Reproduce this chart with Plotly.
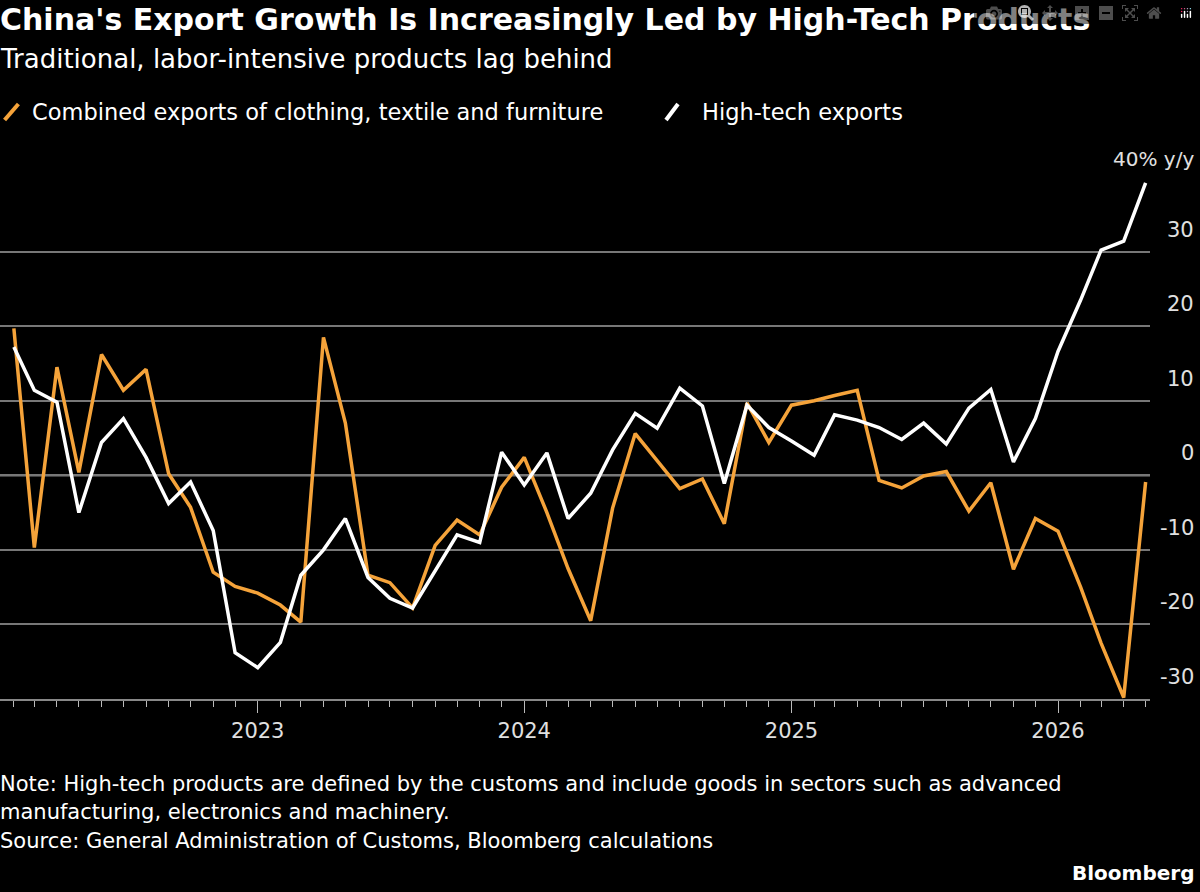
import pandas as pd
import plotly.graph_objects as go

months = pd.date_range("2022-02-01", "2026-05-01", freq="MS")

# y/y % change
hightech = [17.2, 11.4, 9.8, -5, 4.4, 7.6, 2.4, -3.8, -0.9, -7.4, -23.8,
            -25.8, -22.4, -13.4, -10, -5.8, -13.7, -16.5, -17.8, -12.9, -8, -9, 3.1,
            -1.3, 3, -5.8, -2.4, 3.4, 8.3, 6.3, 11.7, 9.3, -1.1, 9.4, 6.4,
            4.6, 2.7, 8.1, 7.4, 6.4, 4.8, 7, 4.2, 9, 11.5, 1.8, 7.6,
            16.6, 23.5, 30.2, 31.4, 39.2]
labor = [19.7, -9.7, 14.5, 0.4, 16.2, 11.4, 14.2, 0.2, -4.3, -13, -14.9,
         -15.8, -17.4, -19.7, 18.5, 7, -13.4, -14.4, -17.8, -9.4, -6, -8, -1.6,
         2.4, -5, -12.5, -19.5, -4.4, 5.6, 2, -1.8, -0.5, -6.5, 9.7, 4.4,
         9.4, 10, 10.7, 11.4, -0.7, -1.7, -0.1, 0.5, -4.8, -1, -12.6, -5.8,
         -7.5, -15, -22.5, -29.8, -0.9]
ytick_vals = [30, 20, 10, 0, -10, -20, -30]

ORANGE = "#F5A33A"
FONT = "DejaVu Sans"
GREY = "#e0e0e0"

fig = go.Figure()
fig.add_trace(go.Scatter(x=months, y=labor, mode="lines", name="Combined exports of clothing, textile and furniture",
                         line=dict(color=ORANGE, width=3.5)))
fig.add_trace(go.Scatter(x=months, y=hightech, mode="lines", name="High-tech exports",
                         line=dict(color="white", width=3.5)))

RIGHT = 1196 / 1150

ann = []
for v in ytick_vals:
    ann.append(dict(x=RIGHT, xref="paper", xanchor="right", y=v, yref="y", yshift=22,
                    text=str(v), showarrow=False, font=dict(size=21, color=GREY)))
ann.append(dict(x=RIGHT, xref="paper", xanchor="right", y=40, yref="y", yshift=18,
                text="40% y/y", showarrow=False, font=dict(size=20, color=GREY)))
n_axis = len(ann)

# paper coords: plot spans x 0..1150 px, y 177..699 px
def py(pix):
    return (699 - pix) / 522

ann += [
    dict(x=-0.002, y=py(20), text="<b>China's Export Growth Is Increasingly Led by High-Tech Products</b>",
         font=dict(size=30, color="white")),
    dict(x=-0.002, y=py(59), text="Traditional, labor-intensive products lag behind",
         font=dict(size=26, color="white")),
    dict(x=30 / 1150, y=py(112), text="Combined exports of clothing, textile and furniture",
         font=dict(size=22.5, color="white")),
    dict(x=700 / 1150, y=py(112), text="High-tech exports", font=dict(size=22.5, color="white")),
    dict(x=-0.002, y=py(784), text="Note: High-tech products are defined by the customs and include goods in sectors such as advanced",
         font=dict(size=21, color="white")),
    dict(x=-0.002, y=py(812), text="manufacturing, electronics and machinery.", font=dict(size=21, color="white")),
    dict(x=-0.002, y=py(841), text="Source: General Administration of Customs, Bloomberg calculations",
         font=dict(size=21, color="white")),
    dict(x=RIGHT, xanchor="right", y=py(873), text="<b>Bloomberg</b>", font=dict(size=20, color="white")),
]
for a in ann[n_axis:]:
    a.setdefault("xanchor", "left")
    a.update(xref="paper", yref="paper", yanchor="middle", showarrow=False)

shapes = [
    dict(type="line", xref="paper", yref="y", x0=0, x1=1, y0=0, y1=0,
         line=dict(color="white", width=2), layer="below"),
    dict(type="line", xref="paper", yref="paper", x0=0.004, x1=0.016, y0=py(120), y1=py(104),
         line=dict(color=ORANGE, width=4)),
    dict(type="line", xref="paper", yref="paper", x0=666 / 1150, x1=678 / 1150, y0=py(120), y1=py(104),
         line=dict(color="white", width=4)),
]

fig.update_layout(
    width=1200, height=892, paper_bgcolor="black", plot_bgcolor="black",
    margin=dict(l=0, r=50, t=177, b=193),
    font=dict(family=FONT, color="white"),
    showlegend=False, annotations=ann, shapes=shapes,
    xaxis=dict(range=["2022-01-13", "2026-05-07"], showgrid=False, zeroline=False,
               tickformat="%Y", dtick="M12", tick0="2023-01-01", ticks="outside", ticklen=12,
               tickcolor="#bbbbbb", tickfont=dict(size=21, color=GREY),
               showline=True, linecolor="#888888", linewidth=2,
               minor=dict(dtick="M1", tick0="2022-01-01", ticks="outside", ticklen=6, tickcolor="#bbbbbb")),
    yaxis=dict(range=[-30, 40], dtick=10, showgrid=True, gridcolor="#777777", gridwidth=1.5,
               zeroline=False, showticklabels=False),
)

fig.write_html("out.html", post_script="document.body.style.margin='0';")
